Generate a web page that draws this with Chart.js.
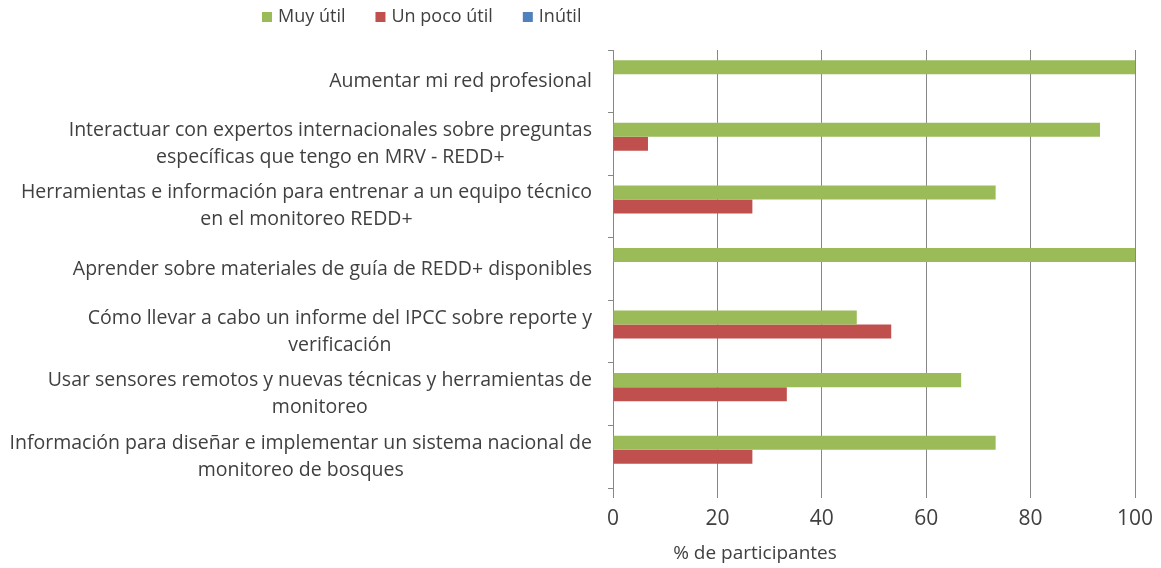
<!DOCTYPE html>
<html>
<head>
<meta charset="utf-8">
<script src="https://cdn.jsdelivr.net/npm/chart.js@4.4.1/dist/chart.umd.min.js"></script>
<style>
  html, body { margin: 0; padding: 0; background: #fff; }
  #wrap { width: 1161px; height: 568px; }
</style>
</head>
<body>
<div id="wrap"><canvas id="surveyChart"></canvas></div>
<script>
// Data
var categories = [
  ['Aumentar mi red profesional'],
  ['Interactuar con expertos internacionales sobre preguntas', 'específicas que tengo en MRV - REDD+'],
  ['Herramientas e información para entrenar a un equipo técnico', 'en el monitoreo REDD+'],
  ['Aprender sobre materiales de guía de REDD+ disponibles'],
  ['Cómo llevar a cabo un informe del IPCC sobre reporte y', 'verificación'],
  ['Usar sensores remotos y nuevas técnicas y herramientas de', 'monitoreo'],
  ['Información para diseñar e implementar un sistema nacional de', 'monitoreo de bosques']
];
var seriesNames = ['Muy útil', 'Un poco útil', 'Inútil'];
var muyUtil = [100, 93.3, 73.3, 100, 46.7, 66.7, 73.3];
var unPocoUtil = [0, 6.7, 26.7, 0, 53.3, 33.3, 26.7];
var inutil = [0, 0, 0, 0, 0, 0, 0];
var xTicks = [0, 20, 40, 60, 80, 100];
var xTitle = '% de participantes';

var FONT = '"Open Sans", Lato, sans-serif';
var TEXT = '#404040';
var GRID = '#878787';

// Category labels: block right-aligned to the axis, lines centred inside it
var yLabelPlugin = {
  id: 'yLabels',
  afterDraw: function(chart) {
    var ctx = chart.ctx;
    var yScale = chart.scales.y;
    ctx.save();
    ctx.font = '19.5px ' + FONT;
    ctx.fillStyle = TEXT;
    ctx.textAlign = 'center';
    ctx.textBaseline = 'middle';
    var lineH = 27;
    categories.forEach(function(lines, i) {
      var maxW = 0;
      lines.forEach(function(l) { maxW = Math.max(maxW, ctx.measureText(l).width); });
      var cx = yScale.right - 21 - maxW / 2;
      var cy = yScale.getPixelForValue(i);
      lines.forEach(function(l, k) {
        ctx.fillText(l, cx, cy + (k - (lines.length - 1) / 2) * lineH);
      });
    });
    // axis title, sits left of the plot centre as in the original
    ctx.font = '19px ' + FONT;
    ctx.fillText(xTitle, 755, 554);
    ctx.restore();
  }
};

// Legend drawn at the top, left of centre like the original
var legendPlugin = {
  id: 'topLegend',
  afterDraw: function(chart) {
    var ctx = chart.ctx;
    ctx.save();
    ctx.font = '18px ' + FONT;
    ctx.textBaseline = 'middle';
    var x = 262, y = 17;
    chart.data.datasets.forEach(function(ds) {
      ctx.fillStyle = ds.backgroundColor;
      ctx.fillRect(x, y - 5, 10, 10);
      ctx.fillStyle = TEXT;
      ctx.textAlign = 'left';
      ctx.fillText(ds.label, x + 16, y);
      x += 16 + ctx.measureText(ds.label).width + 30;
    });
    ctx.restore();
  }
};

var ctx = document.getElementById('surveyChart').getContext('2d');
var surveyChart = new Chart(ctx, {
  type: 'bar',
  data: {
    labels: categories,
    datasets: [
      { label: seriesNames[0], data: muyUtil, backgroundColor: '#9BBB59' },
      { label: seriesNames[1], data: unPocoUtil, backgroundColor: '#C0504D' },
      { label: seriesNames[2], data: inutil, backgroundColor: '#4F81BD' }
    ]
  },
  options: {
    indexAxis: 'y',
    responsive: true,
    maintainAspectRatio: false,
    animation: false,
    layout: { padding: { top: 50, right: 26, left: 0, bottom: 28 } },
    datasets: { bar: { categoryPercentage: 0.672, barPercentage: 1.0 } },
    plugins: {
      legend: { display: false },
      tooltip: { enabled: false }
    },
    scales: {
      x: {
        min: 0,
        max: 100,
        afterBuildTicks: function(scale) {
          scale.ticks = xTicks.map(function(v) { return { value: v }; });
        },
        grid: { color: GRID, lineWidth: 1, drawTicks: true, tickLength: 10 },
        border: { display: false },
        ticks: { color: TEXT, font: { family: FONT, size: 21 }, padding: 8 },
        title: { display: false },
        afterFit: function(scale) {
          scale.height = 52;
          scale.paddingLeft = 0;
          scale.paddingRight = 0;
        }
      },
      y: {
        grid: { drawOnChartArea: false, drawTicks: true, tickLength: 5, color: GRID, offset: true },
        border: { display: true, color: GRID },
        ticks: { display: false },
        afterFit: function(scale) { scale.width = 613; }
      }
    }
  },
  plugins: [yLabelPlugin, legendPlugin]
});
</script>
</body>
</html>
